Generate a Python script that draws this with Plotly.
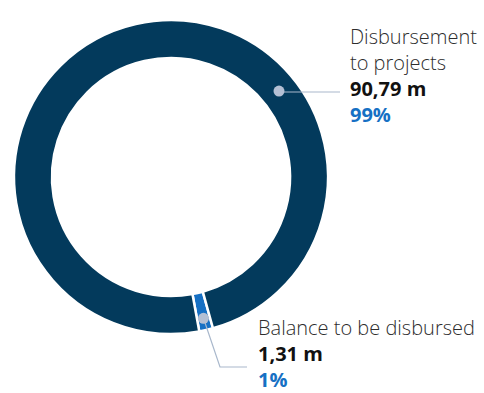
import math
import plotly.graph_objects as go

# Data
labels = ["Balance to be disbursed", "Disbursement to projects"]
values = [1.31, 90.79]
value_text = ["1,31 m", "90,79 m"]
pct_text = ["1%", "99%"]

# Styling
W, H = 484, 393
CX, CY = 171, 177          # donut centre (px)
R_OUT, R_IN = 157, 119     # outer / inner radius (px)
ROTATION = 164.5           # start angle of the first slice, clockwise from 12 o'clock
NAVY = "#033a5c"
BLUE = "#1670c4"
DOT = "#b4c0d4"
LEADER = "#a9b8cc"
TEXT = "#2d2d2d"
FONT = "Open Sans"


def px(x):
    return x / W


def py(y):
    return 1 - y / H


def polar(angle_deg, r):
    a = math.radians(angle_deg)
    return CX + r * math.sin(a), CY - r * math.cos(a)


fig = go.Figure(
    go.Pie(
        labels=labels,
        values=values,
        hole=R_IN / R_OUT,
        sort=False,
        direction="clockwise",
        rotation=ROTATION,
        marker=dict(colors=[BLUE, NAVY], line=dict(color="white", width=2.5)),
        textinfo="none",
        hoverinfo="label+value",
        showlegend=False,
        domain=dict(x=[px(CX - R_OUT), px(CX + R_OUT)], y=[py(CY + R_OUT), py(CY - R_OUT)]),
    )
)

# anchor points on the ring for the leader lines
total = sum(values)
small_mid = ROTATION + values[0] / total * 360 / 2
small_dot = polar(small_mid, 145)
big_dot = polar(51.5, (R_OUT + R_IN) / 2)

shapes = []
# leader for the large slice: horizontal line to the label
shapes.append(dict(type="line", xref="paper", yref="paper",
                   x0=px(big_dot[0]), y0=py(92), x1=px(340), y1=py(92),
                   line=dict(color=LEADER, width=1.2)))
# leader for the small slice: down, then right
shapes.append(dict(type="path", xref="paper", yref="paper",
                   path=f"M {px(small_dot[0])},{py(small_dot[1])} L {px(220)},{py(367)} L {px(247)},{py(367)}",
                   line=dict(color=LEADER, width=1.2)))
for (dx, dy) in (big_dot, small_dot):
    shapes.append(dict(type="circle", xref="paper", yref="paper",
                       x0=px(dx - 5.5), x1=px(dx + 5.5), y0=py(dy + 5.5), y1=py(dy - 5.5),
                       fillcolor=DOT, line=dict(width=0)))


def label_text(name_lines, val, pct):
    head = "<br>".join(name_lines)
    return (f"{head}<br><b><span style='color:#111111'>{val}</span></b>"
            f"<br><b><span style='color:{BLUE}'>{pct}</span></b>")


annotations = [
    dict(x=px(348), y=py(21), xref="paper", yref="paper", xanchor="left", yanchor="top",
         align="left", showarrow=False,
         text=label_text(["Disbursement", "to projects"], value_text[1], pct_text[1]),
         font=dict(family=FONT, size=20, color=TEXT, weight=300)),
    dict(x=px(256), y=py(312), xref="paper", yref="paper", xanchor="left", yanchor="top",
         align="left", showarrow=False,
         text=label_text(["Balance to be disbursed"], value_text[0], pct_text[0]),
         font=dict(family=FONT, size=20, color=TEXT, weight=300)),
]

fig.update_layout(
    width=W, height=H,
    margin=dict(l=0, r=0, t=0, b=0),
    paper_bgcolor="white", plot_bgcolor="white",
    shapes=shapes, annotations=annotations,
)

fig.write_html("out.html")
